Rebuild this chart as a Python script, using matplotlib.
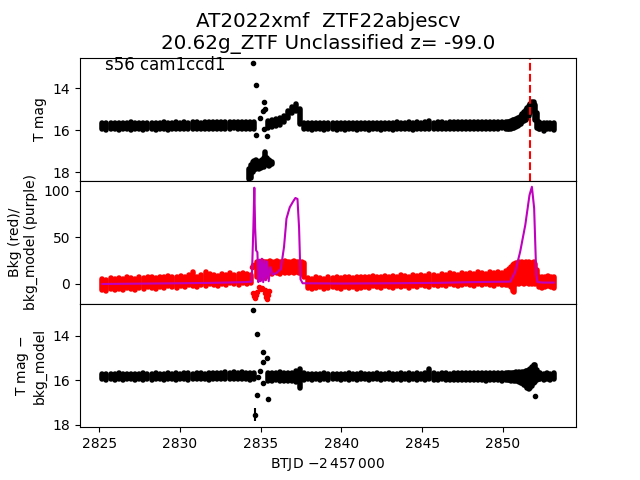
import matplotlib
matplotlib.use('Agg')

import matplotlib.pyplot as plt
import numpy as np

# ---- top panel: T mag (band edges read per segment, ~0.25 d cadence) ----
top_a_t = (2825.2, 2834.6)
top_a_hi = [15.66, 15.64, 15.66, 15.65, 15.64, 15.66, 15.65, 15.63, 15.66, 15.65,
            15.64, 15.65, 15.66, 15.64, 15.65, 15.63, 15.64, 15.65, 15.62, 15.64,
            15.63, 15.65, 15.62, 15.63, 15.64, 15.62, 15.61, 15.63, 15.62, 15.60,
            15.62, 15.61, 15.60, 15.62, 15.60, 15.61, 15.60, 15.62]
top_a_lo = [15.95, 15.97, 15.95, 15.96, 15.98, 15.95, 15.96, 15.97, 15.95, 15.96,
            15.98, 15.96, 15.95, 15.97, 15.96, 15.95, 15.97, 15.96, 15.95, 15.96,
            15.94, 15.95, 15.96, 15.94, 15.93, 15.95, 15.94, 15.92, 15.94, 15.93,
            15.92, 15.94, 15.91, 15.93, 15.92, 15.94, 15.96, 15.93]
top_low_t = (2834.3, 2835.7)
top_low_hi = [17.85, 17.65, 17.5, 17.45, 17.4, 17.45, 17.5, 17.45, 17.4, 17.3,
              17.05, 17.3, 17.4, 17.45, 17.5]
top_low_lo = [18.3, 18.25, 18.0, 17.9, 17.85, 17.8, 17.85, 17.8, 17.75, 17.75,
              17.65, 17.6, 17.7, 17.65, 17.6]
top_b_t = (2835.45, 2837.7)
top_b_hi = [15.55, 15.5, 15.47, 15.42, 15.3, 15.1, 14.88, 14.75, 15.0, 15.65]
top_b_lo = [15.9, 15.85, 15.8, 15.75, 15.62, 15.42, 15.18, 15.08, 15.7, 15.95]
top_c_t = (2837.95, 2850.2)
top_c_hi = [15.66, 15.65, 15.64, 15.66, 15.65, 15.64, 15.66, 15.65, 15.64, 15.65,
            15.66, 15.64, 15.65, 15.66, 15.64, 15.65, 15.64, 15.66, 15.65, 15.64,
            15.65, 15.64, 15.63, 15.65, 15.64, 15.63, 15.65, 15.62, 15.64, 15.63,
            15.55, 15.64, 15.62, 15.63, 15.64, 15.62, 15.63, 15.61, 15.63, 15.62,
            15.61, 15.62, 15.60, 15.62, 15.61, 15.60, 15.61, 15.60, 15.59, 15.60]
top_c_lo = [15.96, 15.97, 15.95, 15.96, 15.98, 15.96, 15.95, 15.97, 15.96, 15.98,
            15.95, 15.96, 15.97, 15.95, 15.96, 15.98, 15.96, 15.95, 15.97, 15.96,
            15.95, 15.97, 15.96, 15.94, 15.96, 15.95, 15.97, 15.95, 15.94, 15.96,
            15.93, 15.95, 15.94, 15.96, 15.93, 15.95, 15.94, 15.92, 15.95, 15.93,
            15.94, 15.92, 15.95, 15.93, 15.92, 15.94, 15.92, 15.93, 15.91, 15.92]
top_f_t = (2850.3, 2852.2)
top_f_hi = [15.62, 15.6, 15.56, 15.52, 15.5, 15.46, 15.43, 15.4, 15.33, 15.25,
            15.15, 15.05, 14.95, 14.85, 14.76, 14.68, 14.64, 14.8, 15.2, 15.62]
top_f_lo = [15.93, 15.92, 15.92, 15.9, 15.88, 15.83, 15.79, 15.75, 15.68, 15.62,
            15.56, 15.5, 15.42, 15.3, 15.18, 15.05, 14.98, 15.5, 15.9, 15.95]
top_d_t = (2852.3, 2853.15)
top_d_hi = [15.65, 15.66, 15.64, 15.65, 15.64]
top_d_lo = [15.95, 16.05, 15.96, 15.95, 15.97]
top_pts_t = [2834.54, 2834.71, 2835.19, 2835.27, 2835.12, 2834.98, 2834.71, 2835.19, 2835.39]
top_pts_m = [12.83, 13.83, 14.68, 14.97, 15.10, 15.41, 16.24, 15.95, 16.27]
flag_time = 2851.7

# ---- middle panel: background (red) and bkg model (purple) ----
bkg_a_t = (2825.2, 2834.4)
bkg_a_hi = [5, 4, 6, 5, 6, 5, 7, 6, 5, 7, 6, 8, 7, 6, 8, 7, 9, 8, 7, 9,
            8, 10, 13, 8, 10, 13, 11, 10, 9, 11, 10, 12, 10, 11, 12, 11, 10]
bkg_a_lo = [-6, -7, -5, -6, -5, -6, -4, -5, -6, -4, -5, -3, -4, -5, -3, -4, -2, -3, -4, -2,
            -3, -1, -2, -3, -1, -2, 0, -1, -2, 0, -1, 1, 0, -1, 1, 0, 1]
bkg_b_t = (2834.8, 2837.7)
bkg_b_hi = [24, 22, 25, 23, 24, 25, 23, 24, 25, 24, 23, 25, 24, 23, 24, 25, 24, 23, 24, 22]
bkg_b_lo = [8, 5, 10, 6, 9, 12, 11, 13, 12, 11, 13, 12, 14, 12, 13, 12, 13, 12, 11, 8]
bkg_c_t = (2837.95, 2850.2)
bkg_c_hi = [6, 5, 7, 6, 5, 7, 6, 7, 6, 8, 7, 6, 8, 7, 8, 7, 9, 8, 7, 9,
            8, 9, 8, 10, 9, 8, 10, 9, 10, 9, 11, 10, 9, 11, 10, 12, 11, 10, 12, 11,
            12, 11, 13, 12, 11, 13, 12, 13, 12, 14]
bkg_c_lo = [-4, -5, -4, -3, -5, -4, -3, -4, -5, -3, -4, -3, -5, -4, -3, -4, -2, -3, -4, -2,
            -3, -4, -2, -3, -2, -4, -2, -3, -1, -2, -3, -1, -2, -1, -2, 0, -1, -2, -1, 0,
            -1, -2, 0, -1, 0, -1, -2, 0, -1, -1]
bkg_f_t = (2850.3, 2852.1)
bkg_f_hi = [14, 16, 18, 20, 21, 22, 22, 23, 22, 23, 22, 23, 22, 23, 22, 22, 23, 21, 15]
bkg_f_lo = [-1, 0, -3, -8, -9, 0, 1, 0, 2, 1, 0, 1, 2, 0, 1, 0, 1, 0, 2]
bkg_d_t = (2852.2, 2853.15)
bkg_d_hi = [8, 7, 8, 9, 7, 8]
bkg_d_lo = [-3, -4, -3, -2, -3, -4]
bkg_pts_t = [2834.45, 2834.5, 2834.55, 2834.6, 2834.65, 2834.7, 2834.75, 2834.9, 2835.0, 2835.1,
             2835.25, 2835.3, 2835.35, 2835.4, 2835.45, 2835.5]
bkg_pts_v = [18, 20, -10, -13, -15, -12, -9, -3, -5, -4, -6, -10, -14, -16, -12, -8]

model_t = [2825.2, 2827.0, 2830.0, 2832.0, 2834.0, 2834.45, 2834.55, 2834.61, 2834.66, 2834.72,
           2834.8, 2834.86, 2834.93, 2835.0, 2835.08, 2835.16, 2835.24, 2835.32, 2835.4, 2835.5,
           2835.6, 2835.75, 2836.0, 2836.25, 2836.45, 2836.6, 2836.8, 2837.0, 2837.15, 2837.28,
           2837.38, 2837.47, 2837.6, 2840.0, 2843.0, 2846.0, 2848.0, 2850.45, 2850.76, 2851.07,
           2851.38, 2851.64, 2851.79, 2851.93, 2852.06, 2852.14, 2852.5, 2853.15]
model_v = [0.0, 0.3, 0.8, 1.2, 2.0, 2.5, 60, 103, 60, 36,
           34, 2, 26, 3, 27, 2, 25, 4, 24, 3,
           18, 10, 12, 16, 40, 70, 82, 88, 92, 91,
           60, 5, 0.8, 0.5, 0.8, 1.2, 2.0, 2.5, 13, 35,
           63, 95, 104, 81, 10, 2, 1.5, 1.5]

# ---- bottom panel: T mag - bkg_model ----
low_a_t = (2825.2, 2834.6)
low_a_hi = [15.72, 15.71, 15.73, 15.72, 15.70, 15.72, 15.71, 15.73, 15.72, 15.71,
            15.70, 15.72, 15.71, 15.70, 15.72, 15.71, 15.69, 15.71, 15.70, 15.72,
            15.70, 15.69, 15.71, 15.70, 15.69, 15.71, 15.68, 15.70, 15.66, 15.68,
            15.65, 15.67, 15.64, 15.66, 15.65, 15.67, 15.66, 15.68]
low_a_lo = [15.97, 15.98, 15.96, 15.98, 15.97, 15.99, 15.97, 15.96, 15.98, 15.97,
            15.99, 15.97, 15.98, 15.96, 15.97, 15.99, 15.97, 15.96, 15.98, 15.97,
            15.96, 15.98, 15.97, 15.95, 15.97, 15.96, 15.98, 15.96, 15.95, 15.97,
            15.96, 15.95, 15.97, 15.96, 15.95, 15.97, 15.98, 15.96]
low_b_t = (2835.45, 2837.7)
low_b_hi = [15.68, 15.66, 15.70, 15.65, 15.68, 15.66, 15.70, 15.60, 15.50, 15.66]
low_b_lo = [16.02, 16.05, 16.00, 16.04, 16.06, 16.03, 16.05, 16.10, 16.35, 16.00]
low_c_t = (2837.95, 2850.2)
low_c_hi = [15.72, 15.71, 15.73, 15.72, 15.70, 15.72, 15.71, 15.73, 15.72, 15.71,
            15.70, 15.72, 15.71, 15.70, 15.72, 15.71, 15.72, 15.70, 15.71, 15.72,
            15.70, 15.71, 15.72, 15.70, 15.71, 15.70, 15.72, 15.70, 15.71, 15.70,
            15.52, 15.70, 15.71, 15.69, 15.70, 15.71, 15.69, 15.70, 15.68, 15.70,
            15.69, 15.68, 15.70, 15.68, 15.69, 15.67, 15.68, 15.69, 15.67, 15.68]
low_c_lo = [15.97, 15.98, 15.96, 15.98, 15.97, 15.99, 15.97, 15.96, 15.98, 15.97,
            15.99, 15.97, 15.98, 15.96, 15.97, 15.99, 15.97, 15.96, 15.98, 15.97,
            15.96, 15.98, 15.97, 15.99, 15.97, 15.98, 15.96, 15.98, 15.97, 15.99,
            15.97, 15.98, 15.99, 15.97, 15.98, 16.00, 15.98, 15.99, 16.00, 15.98,
            15.99, 16.01, 15.99, 16.00, 16.02, 15.99, 16.01, 16.00, 16.02, 16.01]
low_f_t = (2850.3, 2852.2)
low_f_hi = [15.70, 15.68, 15.70, 15.66, 15.68, 15.65, 15.66, 15.64, 15.66, 15.63,
            15.62, 15.60, 15.58, 15.55, 15.50, 15.42, 15.32, 15.30, 15.55, 15.70]
low_f_lo = [15.98, 16.00, 16.02, 16.00, 16.03, 16.05, 16.04, 16.08, 16.12, 16.15,
            16.20, 16.28, 16.35, 16.40, 16.35, 16.25, 16.15, 16.10, 16.00, 15.97]
low_d_t = (2852.3, 2853.15)
low_d_hi = [15.70, 15.72, 15.70, 15.71, 15.70]
low_d_lo = [15.97, 15.98, 15.96, 15.98, 15.97]
low_pts_t = [2834.54, 2834.75, 2835.16, 2835.12, 2835.37, 2834.98, 2834.81, 2835.16, 2834.75,
             2835.43, 2834.65, 2851.99]
low_pts_m = [12.85, 13.9, 14.72, 15.2, 15.0, 15.58, 15.88, 16.15, 16.68, 16.83, 17.55, 16.7]
low_pts_e = [0.03, 0.03, 0.03, 0.03, 0.03, 0.03, 0.03, 0.03, 0.05, 0.08, 0.3, 0.03]


def band(ax, span, hi, lo, color):
    # each cadence drawn as a dot-width stroke spanning the scatter read at that time
    t = np.linspace(span[0], span[1], len(hi))
    ax.vlines(t, hi, lo, colors=color, lw=4, capstyle='round', zorder=2)


fig, (ax1, ax2, ax3) = plt.subplots(3, 1, sharex=True, figsize=(6.4, 4.8))
fig.subplots_adjust(hspace=0)

# top
for span, hi, lo in [(top_a_t, top_a_hi, top_a_lo), (top_low_t, top_low_hi, top_low_lo),
                     (top_b_t, top_b_hi, top_b_lo), (top_c_t, top_c_hi, top_c_lo),
                     (top_f_t, top_f_hi, top_f_lo), (top_d_t, top_d_hi, top_d_lo)]:
    band(ax1, span, hi, lo, 'k')
ax1.plot(top_pts_t, top_pts_m, 'k.')
ax1.axvline(flag_time, color='r', ls='--', lw=1.5)
ax1.set_ylim(18.4, 12.55)
ax1.set_yticks([14, 16, 18])
ax1.set_ylabel("T mag")
ax1.text(0.05, 0.9, "s56 cam1ccd1", transform=ax1.transAxes, fontsize=12)
ax1.set_title("AT2022xmf  ZTF22abjescv\n20.62g_ZTF Unclassified z= -99.0", fontsize=14.3)

# middle
for span, hi, lo in [(bkg_a_t, bkg_a_hi, bkg_a_lo), (bkg_b_t, bkg_b_hi, bkg_b_lo),
                     (bkg_c_t, bkg_c_hi, bkg_c_lo), (bkg_f_t, bkg_f_hi, bkg_f_lo),
                     (bkg_d_t, bkg_d_hi, bkg_d_lo)]:
    band(ax2, span, hi, lo, 'r')
ax2.plot(bkg_pts_t, bkg_pts_v, 'r.')
ax2.plot(model_t, model_v, color='m', lw=1.5, zorder=3)
ax2.set_ylim(-21.4, 110.4)
ax2.set_yticks([0, 50, 100])
ax2.set_ylabel("Bkg (red)/\nbkg_model (purple)")

# bottom
for span, hi, lo in [(low_a_t, low_a_hi, low_a_lo), (low_b_t, low_b_hi, low_b_lo),
                     (low_c_t, low_c_hi, low_c_lo), (low_f_t, low_f_hi, low_f_lo),
                     (low_d_t, low_d_hi, low_d_lo)]:
    band(ax3, span, hi, lo, 'k')
ax3.errorbar(low_pts_t, low_pts_m, yerr=low_pts_e, fmt='k.')
ax3.set_ylim(18.12, 12.57)
ax3.set_yticks([14, 16, 18])
ax3.set_ylabel("T mag $-$\nbkg_model")

ax3.set_xlim(2823.82, 2854.52)
ax3.set_xlabel(r"BTJD $-2\,457\,000$")

plt.savefig("out.png", dpi=100)
plt.close()
